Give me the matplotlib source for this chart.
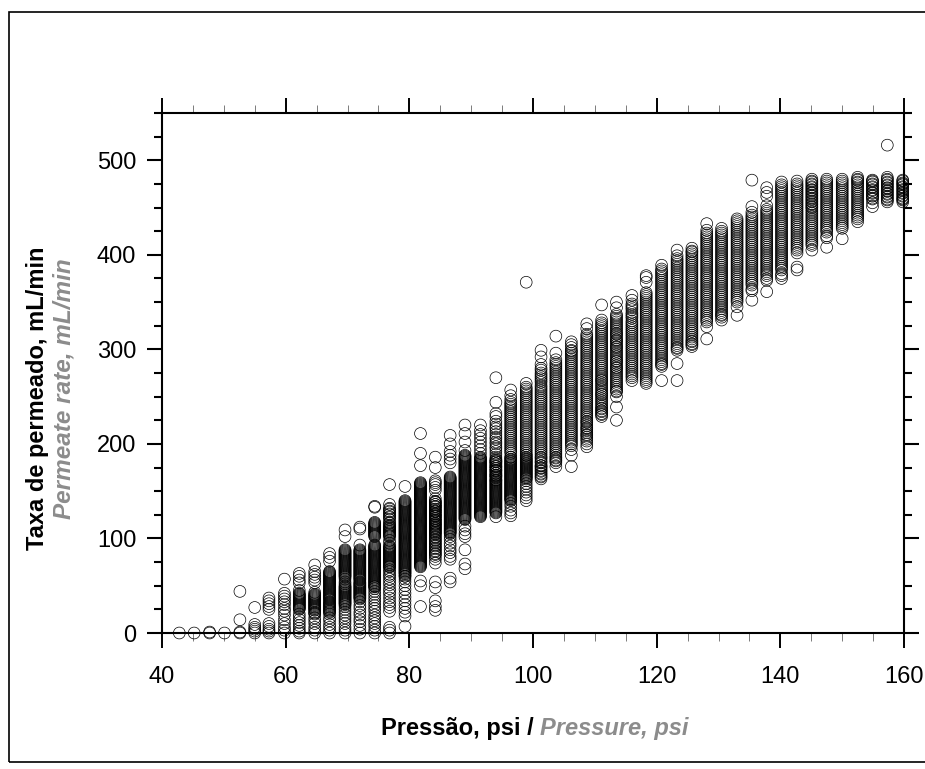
import matplotlib
matplotlib.use('Agg')
import matplotlib.pyplot as plt
from matplotlib.patches import Rectangle
from matplotlib.ticker import MultipleLocator

plt.rcParams['font.family'] = ['Liberation Sans', 'DejaVu Sans']

### Datos: una lista de caudales por cada presion ###
pressao = [42.8, 45.2, 47.7, 50.1, 52.6, 55.0, 57.3, 59.8, 62.2, 64.7,
           67.1, 69.6, 72.0, 74.4, 76.8, 79.3, 81.8, 84.2, 86.6, 89.0,
           91.5, 94.0, 96.4, 98.9, 101.3, 103.7, 106.2, 108.7, 111.1, 113.5,
           116.0, 118.3, 120.8, 123.3, 125.7, 128.1, 130.5, 133.0, 135.4, 137.8,
           140.2, 142.7, 145.1, 147.5, 150.0, 152.5, 154.9, 157.3, 159.8]

taxa = [
    [0],
    [0],
    [0, 1],
    [0],
    [0, 1, 14, 44],
    [0, 2, 4, 6, 9, 27],
    [0, 2, 4, 7, 10, 25, 28, 31, 34, 37],
    [0, 3, 6, 10, 14, 19, 23, 26, 30, 33, 36, 39, 42, 57],
    [0, 2, 5, 8, 11, 14, 17, 20, 25, 28, 31, 34, 37, 40, 42, 45, 53, 56, 60, 63],
    [0, 3, 6, 10, 13, 16, 20, 25, 28, 31, 34, 37, 40, 43, 53, 56, 59, 62, 65, 72],
    [0, 3, 6, 9, 13, 16, 20, 24, 28, 31, 33, 36, 38, 40, 43, 45, 48, 50, 52, 55, 58, 61, 64, 76, 80, 84],
    [0, 3, 6, 10, 13, 16, 19, 22, 25, 28, 31, 34, 37, 39, 42, 44, 47, 49, 52, 54, 57, 59, 62, 65, 68, 71, 74, 77, 80, 83, 86, 102, 109],
    [0, 4, 8, 12, 15, 19, 22, 26, 29, 33, 36, 39, 42, 44, 47, 49, 52, 54, 57, 59, 62, 64, 67, 69, 72, 74, 77, 79, 81, 84, 86, 93, 110, 112],
    [0, 3, 7, 10, 13, 16, 19, 23, 26, 29, 32, 35, 38, 41, 44, 47, 49, 52, 54, 57, 59, 62, 64, 67, 69, 72, 74, 77, 79, 82, 84, 87, 90, 92, 102, 105, 108, 110, 113, 116, 133, 134],
    [0, 3, 6, 23, 27, 30, 33, 37, 41, 44, 47, 51, 54, 57, 60, 62, 65, 67, 70, 72, 75, 77, 79, 82, 84, 87, 89, 92, 95, 98, 102, 105, 107, 110, 112, 120, 123, 126, 129, 132, 136, 157],
    [7, 18, 22, 26, 30, 34, 38, 42, 46, 50, 54, 57, 60, 63, 66, 69, 72, 75, 78, 81, 84, 86, 89, 92, 94, 97, 100, 103, 105, 108, 110, 113, 115, 118, 120, 123, 125, 128, 130, 132, 135, 137, 139, 155],
    [28, 50, 55, 70, 73, 76, 79, 82, 85, 88, 91, 94, 97, 100, 103, 105, 108, 110, 113, 115, 118, 120, 123, 125, 128, 130, 133, 135, 138, 140, 143, 145, 148, 150, 153, 155, 158, 177, 190, 211],
    [24, 28, 34, 48, 54, 74, 78, 81, 84, 87, 90, 93, 96, 99, 102, 105, 108, 111, 114, 116, 119, 121, 124, 126, 129, 131, 134, 136, 139, 142, 151, 154, 157, 159, 161, 175, 186],
    [54, 58, 78, 81, 85, 88, 92, 95, 99, 102, 105, 108, 111, 114, 117, 120, 122, 125, 127, 130, 132, 135, 137, 140, 142, 145, 147, 150, 152, 155, 158, 161, 164, 180, 184, 188, 192, 200, 209],
    [68, 73, 88, 102, 105, 109, 113, 120, 122, 125, 127, 129, 132, 134, 136, 139, 141, 143, 146, 148, 150, 153, 155, 157, 160, 162, 164, 167, 169, 171, 174, 176, 178, 181, 183, 185, 188, 193, 202, 211, 220],
    [123, 125, 128, 130, 132, 135, 137, 139, 142, 144, 146, 149, 151, 153, 156, 158, 160, 163, 165, 167, 170, 172, 174, 177, 179, 181, 184, 186, 190, 194, 198, 202, 206, 210, 214, 220],
    [123, 127, 130, 132, 134, 137, 139, 141, 144, 146, 148, 151, 153, 155, 158, 160, 162, 165, 167, 169, 172, 174, 176, 179, 181, 183, 186, 192, 197, 202, 207, 213, 218, 224, 229, 232, 244, 270],
    [124, 127, 130, 134, 137, 140, 143, 146, 149, 152, 155, 158, 160, 163, 165, 168, 170, 173, 175, 178, 180, 183, 186, 190, 194, 198, 202, 206, 210, 214, 218, 222, 226, 230, 234, 238, 242, 247, 251, 257],
    [140, 143, 146, 149, 152, 155, 158, 161, 164, 167, 169, 172, 174, 177, 179, 182, 184, 188, 192, 196, 200, 204, 208, 212, 216, 220, 224, 228, 232, 236, 240, 244, 248, 252, 256, 260, 264, 371],
    [163, 166, 169, 172, 175, 177, 180, 183, 186, 190, 194, 198, 202, 206, 210, 214, 218, 222, 226, 230, 234, 238, 242, 246, 250, 254, 258, 262, 267, 271, 275, 280, 284, 292, 299],
    [176, 180, 183, 186, 190, 194, 198, 202, 206, 210, 214, 218, 222, 226, 230, 234, 238, 242, 246, 250, 254, 258, 262, 266, 270, 274, 278, 282, 286, 289, 296, 314],
    [176, 188, 194, 200, 204, 208, 212, 216, 220, 224, 228, 232, 236, 240, 244, 248, 252, 256, 260, 264, 268, 272, 276, 280, 284, 288, 292, 296, 299, 302, 305, 308],
    [197, 200, 203, 207, 210, 214, 217, 221, 224, 228, 232, 236, 240, 244, 248, 252, 256, 260, 264, 268, 272, 276, 280, 284, 288, 292, 296, 300, 304, 308, 312, 316, 322, 327],
    [229, 232, 235, 238, 242, 246, 250, 253, 257, 261, 265, 268, 272, 276, 280, 284, 288, 292, 296, 300, 304, 308, 312, 316, 320, 324, 328, 331, 347],
    [225, 239, 250, 255, 258, 262, 266, 270, 274, 278, 281, 285, 288, 292, 296, 300, 303, 307, 310, 314, 317, 321, 325, 329, 333, 337, 344, 350],
    [267, 270, 274, 278, 282, 286, 290, 294, 298, 302, 306, 310, 314, 318, 322, 326, 330, 335, 339, 344, 348, 352, 357],
    [264, 268, 272, 276, 280, 284, 288, 292, 296, 300, 304, 308, 312, 316, 320, 324, 328, 332, 336, 340, 344, 348, 352, 356, 360, 371, 376, 378],
    [267, 282, 285, 289, 293, 297, 301, 305, 309, 313, 317, 321, 325, 329, 333, 337, 341, 345, 349, 353, 357, 361, 365, 369, 373, 377, 381, 385, 389],
    [267, 285, 299, 302, 306, 310, 314, 318, 322, 326, 330, 334, 338, 342, 346, 350, 354, 358, 362, 366, 370, 374, 378, 382, 386, 390, 394, 399, 405],
    [303, 306, 309, 313, 317, 321, 325, 329, 333, 337, 341, 345, 349, 353, 357, 361, 365, 369, 373, 377, 381, 385, 389, 393, 397, 401, 404, 407],
    [311, 324, 329, 333, 337, 341, 345, 349, 353, 357, 361, 365, 369, 373, 377, 381, 385, 389, 393, 397, 401, 405, 409, 413, 417, 421, 426, 433],
    [331, 334, 337, 341, 345, 349, 353, 357, 361, 365, 369, 373, 377, 381, 385, 389, 393, 397, 401, 405, 409, 413, 417, 421, 425, 428],
    [336, 345, 350, 354, 358, 362, 366, 370, 374, 378, 382, 386, 390, 394, 398, 402, 406, 410, 414, 418, 422, 426, 430, 434, 438],
    [352, 362, 368, 372, 376, 380, 384, 388, 392, 396, 400, 404, 408, 412, 416, 420, 424, 428, 432, 436, 440, 445, 451, 479],
    [361, 373, 378, 382, 386, 390, 394, 398, 402, 406, 410, 414, 418, 422, 426, 430, 434, 438, 442, 446, 452, 462, 466, 471],
    [375, 378, 384, 388, 392, 396, 400, 404, 408, 412, 416, 420, 424, 428, 432, 436, 440, 444, 448, 452, 456, 460, 464, 468, 472, 477],
    [384, 387, 402, 405, 409, 413, 417, 421, 425, 429, 433, 437, 441, 445, 449, 453, 457, 461, 465, 469, 473, 478],
    [405, 410, 414, 418, 422, 426, 430, 434, 438, 442, 446, 450, 453, 456, 459, 462, 465, 468, 471, 474, 477, 480],
    [408, 418, 424, 428, 432, 436, 440, 444, 448, 452, 456, 460, 464, 468, 472, 476, 480],
    [417, 428, 432, 436, 440, 444, 448, 452, 456, 460, 464, 468, 472, 476, 480],
    [435, 440, 444, 448, 452, 456, 460, 464, 468, 472, 476, 479, 482],
    [451, 459, 462, 465, 468, 471, 474, 477, 479],
    [456, 459, 462, 465, 468, 471, 474, 477, 480, 482, 516],
    [456, 459, 462, 465, 468, 471, 474, 476, 479],
]

# Lecturas repetidas en las zonas oscuras, mismo orden de presiones
taxa_densa = [
    [], [], [], [], [], [], [], [],
    [26, 27, 29, 30, 32, 33, 35, 36, 38, 39, 41],
    [21, 22, 24, 26, 27, 29, 30, 32, 33, 35, 36, 38, 39, 41],
    [22, 23, 25, 26, 27, 29, 30, 32, 35, 37, 39, 41, 42, 44, 46, 47, 49, 51, 53, 54, 56, 57, 59, 60, 62, 63, 65],
    [30, 32, 33, 35, 36, 38, 40, 41, 43, 45, 46, 48, 50, 60, 61, 63, 64, 66, 67, 69, 70, 72, 73, 75, 76, 78, 79, 81, 82, 84, 85, 87, 88],
    [37, 38, 40, 41, 43, 45, 46, 48, 50, 51, 53, 56, 58, 60, 61, 63, 65, 66, 68, 70, 71, 73, 75, 76, 78, 80, 82, 83, 85, 87, 88],
    [49, 50, 51, 53, 55, 56, 58, 60, 61, 63, 65, 66, 68, 70, 71, 73, 75, 76, 78, 80, 81, 83, 85, 86, 88, 89, 91, 93, 103, 104, 106, 107, 109, 111, 112, 114, 115, 117],
    [70, 71, 73, 74, 76, 78, 80, 81, 83, 85, 86, 88, 90, 91, 103, 104, 106, 108, 109, 111, 113, 114, 116, 117, 122, 125, 128, 131],
    [60, 62, 64, 65, 67, 68, 70, 71, 73, 74, 76, 77, 79, 80, 82, 83, 85, 87, 88, 90, 91, 93, 95, 96, 98, 99, 101, 102, 104, 106, 107, 109, 111, 112, 114, 116, 117, 119, 121, 122, 124, 126, 127, 129, 131, 133, 134, 136, 138, 140],
    [71, 72, 74, 75, 77, 78, 80, 81, 83, 84, 86, 87, 89, 90, 92, 93, 95, 96, 98, 99, 101, 102, 104, 106, 107, 109, 111, 112, 114, 116, 117, 119, 121, 122, 124, 126, 127, 129, 131, 132, 134, 136, 137, 139, 141, 142, 144, 146, 147, 149, 151, 152, 154, 156, 157, 159],
    [83, 86, 89, 92, 95, 98, 101, 104, 106, 107, 109, 110, 112, 113, 115, 116, 118, 119, 121, 123, 124, 126, 128, 129, 131, 133, 134, 136, 138, 139],
    [106, 107, 109, 110, 112, 113, 115, 116, 118, 119, 121, 123, 124, 126, 128, 129, 131, 133, 134, 136, 138, 139, 141, 143, 144, 146, 148, 149, 151, 153, 154, 156, 157, 159, 160, 162, 163, 165],
    [121, 123, 124, 126, 128, 130, 131, 133, 135, 137, 138, 140, 142, 144, 145, 147, 149, 151, 152, 154, 156, 158, 159, 161, 163, 165, 166, 168, 170, 172, 173, 175, 177, 179, 180, 182, 184, 186, 187],
    [124, 126, 127, 129, 131, 133, 134, 136, 138, 140, 141, 143, 145, 147, 148, 150, 152, 154, 155, 157, 159, 161, 162, 164, 166, 168, 169, 171, 173, 175, 176, 178, 180, 182, 183, 185],
    [128, 129, 131, 133, 135, 136, 138, 140, 142, 143, 145, 147, 149, 150, 152, 154, 156, 157, 159, 161, 162, 164, 166, 167, 169, 171, 172, 174, 176, 177, 179, 181, 182, 184, 189, 195, 200, 205, 210, 216, 221],
    [141, 142, 144, 145, 147, 148, 150, 151, 153, 154, 156, 157, 159, 161, 162, 164, 166, 167, 169, 171, 172, 174, 176, 177, 179, 181, 182, 184, 186, 192, 196, 200, 204, 208, 212, 216, 220, 224, 228, 232, 236, 240, 244],
    [163, 165, 166, 168, 170, 171, 173, 175, 176, 178, 180, 181, 183, 185, 186, 188, 190, 194, 198, 202, 206, 210, 214, 218, 222, 226, 230, 234, 238, 242, 246, 250, 254, 258],
    [165, 168, 171, 174, 177, 181, 185, 188, 192, 196, 200, 204, 208, 212, 216, 220, 224, 228, 232, 236, 240, 244, 248, 252, 256, 260, 265, 269, 273, 278],
    [182, 185, 188, 192, 196, 200, 204, 208, 212, 216, 220, 224, 228, 232, 236, 240, 244, 248, 252, 256, 260, 264, 268, 272, 276, 280, 284],
    [198, 202, 206, 210, 214, 218, 222, 226, 230, 234, 238, 242, 246, 250, 254, 258, 262, 266, 270, 274, 278, 282, 286, 290, 294, 298],
    [205, 209, 212, 216, 219, 223, 226, 230, 234, 238, 242, 246, 250, 254, 258, 262, 266, 270, 274, 278, 282, 286, 290, 294, 298, 302, 306, 310, 314],
    [231, 234, 237, 240, 244, 248, 252, 255, 259, 263, 267, 270, 274, 278, 282, 286, 290, 294, 298, 302, 306, 310, 314, 318, 322, 326],
    [256, 260, 264, 268, 272, 276, 280, 283, 287, 290, 294, 298, 302, 305, 309, 312, 316, 319, 323, 327, 331, 335],
    [272, 276, 280, 284, 288, 292, 296, 300, 304, 308, 312, 316, 320, 324, 328, 333, 337, 342, 346],
    [266, 270, 274, 278, 282, 286, 290, 294, 298, 302, 306, 310, 314, 318, 322, 326, 330, 334, 338, 342, 346, 350, 354, 358],
    [284, 287, 291, 295, 299, 303, 307, 311, 315, 319, 323, 327, 331, 335, 339, 343, 347, 351, 355, 359, 363, 367, 371, 375, 379, 383],
    [301, 304, 308, 312, 316, 320, 324, 328, 332, 336, 340, 344, 348, 352, 356, 360, 364, 368, 372, 376, 380, 384, 388, 392, 396],
    [305, 308, 311, 315, 319, 323, 327, 331, 335, 339, 343, 347, 351, 355, 359, 363, 367, 371, 375, 379, 383, 387, 391, 395, 399, 403],
    [331, 335, 339, 343, 347, 351, 355, 359, 363, 367, 371, 375, 379, 383, 387, 391, 395, 399, 403, 407, 411, 415, 419, 423],
    [336, 339, 343, 347, 351, 355, 359, 363, 367, 371, 375, 379, 383, 387, 391, 395, 399, 403, 407, 411, 415, 419, 423],
    [352, 356, 360, 364, 368, 372, 376, 380, 384, 388, 392, 396, 400, 404, 408, 412, 416, 420, 424, 428, 432, 436],
    [364, 370, 374, 378, 382, 386, 390, 394, 398, 402, 406, 410, 414, 418, 422, 426, 430, 434, 438, 442],
    [375, 380, 384, 388, 392, 396, 400, 404, 408, 412, 416, 420, 424, 428, 432, 436, 440, 444, 448],
    [380, 386, 390, 394, 398, 402, 406, 410, 414, 418, 422, 426, 430, 434, 438, 442, 446, 450, 454, 458, 462, 466, 470, 474],
    [407, 411, 415, 419, 423, 427, 431, 435, 439, 443, 447, 451, 455, 459, 463, 467, 471, 475],
    [412, 416, 420, 424, 428, 432, 436, 440, 444, 448, 451, 454, 457, 460, 463, 466, 469, 472, 475, 478],
    [420, 426, 430, 434, 438, 442, 446, 450, 454, 458, 462, 466, 470, 474, 478],
    [430, 434, 438, 442, 446, 450, 454, 458, 462, 466, 470, 474, 478],
    [438, 442, 446, 450, 454, 458, 462, 466, 470, 474, 477, 480],
    [455, 460, 463, 466, 469, 472, 475, 478],
    [458, 461, 464, 467, 470, 473, 476, 479],
    [458, 460, 463, 466, 469, 472, 475, 478],
]

x_ticks = [40, 60, 80, 100, 120, 140, 160]
y_ticks = [0, 100, 200, 300, 400, 500]

### Graficar ###
ancho, alto = 925, 769
fig = plt.figure(figsize=(ancho/100, alto/100), dpi=100)
ax = fig.add_axes([162/ancho, 1-633/alto, (904-162)/ancho, (633-113)/alto])

# Marco exterior
fig.add_artist(Rectangle((9/ancho, 1-762/alto), 930/ancho, 750/alto, transform=fig.transFigure,
                         fill=False, edgecolor='black', linewidth=1.2))

for p, valores, densos in zip(pressao, taxa, taxa_densa):
    todos = valores + densos
    ax.scatter([p]*len(todos), todos, s=72, facecolors='none', edgecolors='black',
               linewidths=0.5, clip_on=False, zorder=2)

ax.set_xlim(40, 160)
ax.set_ylim(0, 550)
ax.set_xticks(x_ticks)
ax.set_yticks(y_ticks)
ax.xaxis.set_minor_locator(MultipleLocator(5))
ax.yaxis.set_minor_locator(MultipleLocator(25))

for lado in ax.spines.values():
    lado.set_linewidth(1.5)
    lado.set_zorder(5)

ax.tick_params(axis='x', which='major', direction='out', length=11, width=1.4, top=True,
               labelsize=17, pad=13)
ax.tick_params(axis='x', which='minor', direction='out', length=6, width=0.6, color='#666666', top=True)
ax.tick_params(axis='y', which='major', direction='out', length=10.5, width=1.5, right=True,
               labelsize=17, pad=8)
ax.tick_params(axis='y', which='minor', direction='out', length=6, width=1.5, right=True)

# Titulos de los ejes (portugues en negro, ingles en gris)
fig.text(381/ancho, 1-729/alto, 'Pressão, psi /', fontsize=17, fontweight='bold',
         color='black', ha='left', va='center')
fig.text(540/ancho, 1-729/alto, 'Pressure, psi', fontsize=17, fontweight='bold', style='italic',
         color='#8c8c8c', ha='left', va='center')
fig.text(38/ancho, 1-398/alto, 'Taxa de permeado, mL/min', fontsize=17, fontweight='bold',
         color='black', rotation=90, ha='center', va='center')
fig.text(64/ancho, 1-389/alto, 'Permeate rate, mL/min', fontsize=17.5, fontweight='bold', style='italic',
         color='#8c8c8c', rotation=90, ha='center', va='center')

plt.savefig('out.png', dpi=100)
